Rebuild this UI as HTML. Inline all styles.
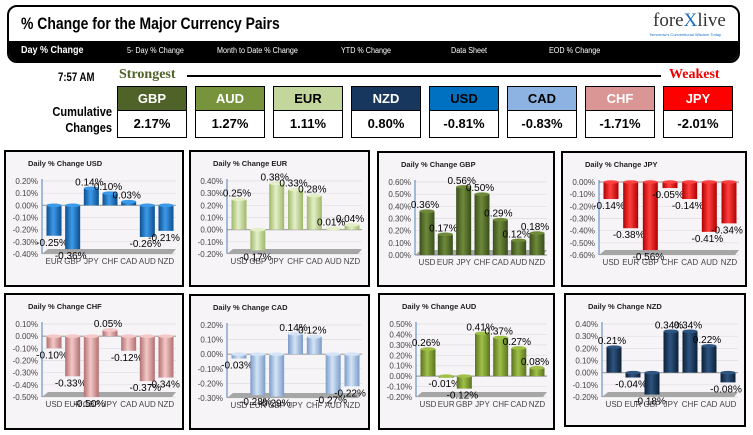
<!DOCTYPE html>
<html><head><meta charset="utf-8">
<style>
body{margin:0;width:753px;height:435px;background:#fff;position:relative;overflow:hidden;font-family:"Liberation Sans",sans-serif}
.abs{position:absolute}
#hdr{left:7px;top:5px;width:729px;height:54px;border:2px solid #000;border-radius:10px;overflow:hidden;background:#fff}
#nav{left:0;top:34px;width:729px;height:20px;background:#000}
.nav{position:absolute;top:5px;color:#fff;font-size:8px;transform:scaleX(.9);transform-origin:left}
.cb{position:absolute;width:68px;border:1px solid #000;text-align:center;font-weight:bold}
.cbh{top:86px;height:23px;line-height:23px;font-size:13px;color:#fff;font-family:"Liberation Sans Narrow","Liberation Sans",sans-serif}
.cbv{top:110px;height:26px;line-height:26px;font-size:13px;background:#fff;font-family:"Liberation Sans Narrow","Liberation Sans",sans-serif}
.panel{position:absolute;background:#f7f4f8;border:2px solid #000;box-sizing:border-box}
</style></head><body>
<div id="hdr" class="abs">
 <div class="abs" style="left:12px;top:7px;font-size:17px;font-weight:bold;transform:scaleX(.82);transform-origin:left;white-space:nowrap">% Change for the Major Currency Pairs</div>
 <div class="abs" style="left:644px;top:3px;font-family:'Liberation Serif',serif;font-size:19px;color:#333">fore<span style="color:#1a6ec0">X</span>live</div>
 <div class="abs" style="left:640px;top:25px;font-size:4px;color:#1a6ec0">Tomorrow's Conventional Wisdom Today</div>
 <div id="nav" class="abs">
  <span class="nav" style="left:12px;font-size:10px;font-weight:bold;top:4px">Day % Change</span>
  <span class="nav" style="left:118px">5- Day % Change</span>
  <span class="nav" style="left:208px">Month to Date % Change</span>
  <span class="nav" style="left:332px">YTD % Change</span>
  <span class="nav" style="left:442px">Data Sheet</span>
  <span class="nav" style="left:540px">EOD % Change</span>
 </div>
</div>
<div class="abs" style="left:58px;top:70px;font-size:12px;font-weight:bold;transform:scaleX(.8);transform-origin:left">7:57 AM</div>
<div class="abs" style="left:119px;top:67px;font-family:'Liberation Serif',serif;font-size:14px;font-weight:bold;color:#4f6228">Strongest</div>
<div class="abs" style="left:187px;top:75px;width:474px;height:2px;background:#000"></div>
<div class="abs" style="left:669px;top:67px;font-family:'Liberation Serif',serif;font-size:14px;font-weight:bold;color:#e00">Weakest</div>
<div class="abs" style="left:38px;top:104px;font-size:13px;font-weight:bold;text-align:right;width:74px;line-height:16px;transform:scaleX(.85);transform-origin:right">Cumulative<br>Changes</div>
<div id="boxes"></div>
<div id="panels"></div>
<script>
const rankNames=["GBP","AUD","EUR","NZD","USD","CAD","CHF","JPY"];
const rankValues=[2.17,1.27,1.11,0.80,-0.81,-0.83,-1.71,-2.01];
const rankColors={GBP:"#4f6228",AUD:"#77933c",EUR:"#c3d69b",NZD:"#17375e",USD:"#0070c0",CAD:"#8db3e2",CHF:"#da9694",JPY:"#ff0000"};
const rankText={GBP:"#fff",AUD:"#fff",EUR:"#000",NZD:"#fff",USD:"#000",CAD:"#000",CHF:"#fff",JPY:"#fff"};
const boxes=document.getElementById('boxes');
rankNames.forEach((n,i)=>{
 const x=117+i*78;
 const h=document.createElement('div');h.className='cb cbh';h.style.left=x+'px';h.style.background=rankColors[n];h.style.color=rankText[n];h.textContent=n;
 
 
 boxes.appendChild(h);
 const v=document.createElement('div');v.className='cb cbv';v.style.left=x+'px';v.textContent=rankValues[i].toFixed(2)+'%';
 
 
 boxes.appendChild(v);
});

const panelCurrencies=["USD","EUR","GBP","JPY","CHF","CAD","AUD","NZD"];
const catsUSD=["EUR","GBP","JPY","CHF","CAD","AUD","NZD"];
const valsUSD=[-0.25,-0.36,0.14,0.10,0.03,-0.26,-0.21];
const catsEUR=["USD","GBP","JPY","CHF","CAD","AUD","NZD"];
const valsEUR=[0.25,-0.17,0.38,0.33,0.28,0.01,0.04];
const catsGBP=["USD","EUR","JPY","CHF","CAD","AUD","NZD"];
const valsGBP=[0.36,0.17,0.56,0.50,0.29,0.12,0.18];
const catsJPY=["USD","EUR","GBP","CHF","CAD","AUD","NZD"];
const valsJPY=[-0.14,-0.38,-0.56,-0.05,-0.14,-0.41,-0.34];
const catsCHF=["USD","EUR","GBP","JPY","CAD","AUD","NZD"];
const valsCHF=[-0.10,-0.33,-0.50,0.05,-0.12,-0.37,-0.34];
const catsCAD=["USD","EUR","GBP","JPY","CHF","AUD","NZD"];
const valsCAD=[-0.03,-0.28,-0.29,0.14,0.12,-0.27,-0.22];
const catsAUD=["USD","EUR","GBP","JPY","CHF","CAD","NZD"];
const valsAUD=[0.26,-0.01,-0.12,0.41,0.37,0.27,0.08];
const catsNZD=["USD","EUR","GBP","JPY","CHF","CAD","AUD"];
const valsNZD=[0.21,-0.04,-0.18,0.34,0.34,0.22,-0.08];
const axisMin=[-0.4,-0.2,0,-0.6,-0.5,-0.3,-0.2,-0.2];
const axisMax=[0.2,0.4,0.6,0,0.1,0.2,0.5,0.4];
const allCats=[catsUSD,catsEUR,catsGBP,catsJPY,catsCHF,catsCAD,catsAUD,catsNZD];
const allVals=[valsUSD,valsEUR,valsGBP,valsJPY,valsCHF,valsCAD,valsAUD,valsNZD];
const barColors={USD:["#0b4f8f","#3d9ae8"],EUR:["#9fb86a","#e4efc8"],GBP:["#3a4e1c","#6e8a3a"],JPY:["#b00000","#ff4040"],CHF:["#b07070","#f4c8c8"],CAD:["#7a9cc8","#d4e4f6"],AUD:["#5a7420","#a0c048"],NZD:["#0c2038","#2e5480"]};
const boxesP=[[4,150,180,137],[189,150,181,137],[377,151,178,136],[561,151,186,136],[4,293,180,137],[189,294,181,136],[378,293,177,137],[564,293,182,134]];
const NS="http://www.w3.org/2000/svg";
const host=document.getElementById('panels');
function mk(t,a,p){const e=document.createElementNS(NS,t);for(const k in a)e.setAttribute(k,a[k]);p.appendChild(e);return e;}
panelCurrencies.forEach((cur,pi)=>{
 const [px,py,pw,ph]=boxesP[pi];
 const d=document.createElement('div');d.className='panel';
 d.style.cssText=`left:${px}px;top:${py}px;width:${pw}px;height:${ph}px`;
 
 
 host.appendChild(d);
 const s=mk('svg',{width:pw-4,height:ph-4,style:'position:absolute;left:0;top:0'},d);
 const t=mk('text',{x:22,y:14,'font-size':7.5,'font-weight':'bold',fill:'#222'},s);t.textContent='Daily % Change '+cur;
 
 
 const mn=axisMin[pi],mx=axisMax[pi],top=29,bot=102,ax=36,right=pw-10;
 const Y=v=>top+(mx-v)/(mx-mn)*(bot-top);
 const steps=Math.round((mx-mn)/0.1);
 for(let i=0;i<=steps;i++){
  const v=mx-i*0.1,y=Y(v);
  mk('line',{x1:ax,x2:right,y1:y,y2:y,stroke:'#ddd','stroke-width':0.7},s);
  const tl=mk('text',{x:ax-4,y:y+3,'font-size':8,fill:'#444','text-anchor':'end'},s);tl.textContent=(Math.abs(v)<1e-9?0:v).toFixed(2)+'%';
  
  
 }
 mk('polygon',{points:`${ax},${bot} ${ax+6},${bot-5} ${right},${bot-5} ${right-4},${bot}`,fill:'#a6a6a6'},s);
 mk('line',{x1:ax,x2:right,y1:Y(0),y2:Y(0),stroke:'#a0a0a0','stroke-width':1.2},s);
 mk('line',{x1:ax,x2:ax,y1:top-2,y2:bot,stroke:'#4f81bd','stroke-width':1},s);
 const g=mk('linearGradient',{id:'g'+pi,x1:0,x2:1,y1:0,y2:0},mk('defs',{},s));
 const c=barColors[cur];
 mk('stop',{offset:'0','stop-color':c[0]},g);mk('stop',{offset:'0.45','stop-color':c[1]},g);mk('stop',{offset:'1','stop-color':c[0]},g);
 const step=(pw-68)/6;
 allCats[pi].forEach((cat,i)=>{
  const v=allVals[pi][i],cx=48+i*step,w=15;
  const y0=Y(0),y1=Y(v),yt=Math.min(y0,y1),h=Math.max(Math.abs(y1-y0),1.5);
  const b=mk('rect',{x:cx-w/2,y:yt,width:w,height:h,fill:`url(#g${pi})`},s);
  
  
  mk('ellipse',{cx:cx,cy:v>=0?yt:y0,rx:w/2,ry:1.8,fill:c[1]},s);
  const cl=mk('text',{x:cx,y:bot+10,'font-size':8,fill:'#444','text-anchor':'middle'},s);cl.textContent=cat;
  
  
  const dl=mk('text',{x:cx-2,y:v>=0?y1-3:y1+10,'font-size':10,fill:'#000','text-anchor':'middle'},s);dl.textContent=v.toFixed(2)+'%';
  
  
 });
});
</script>
</body></html>
